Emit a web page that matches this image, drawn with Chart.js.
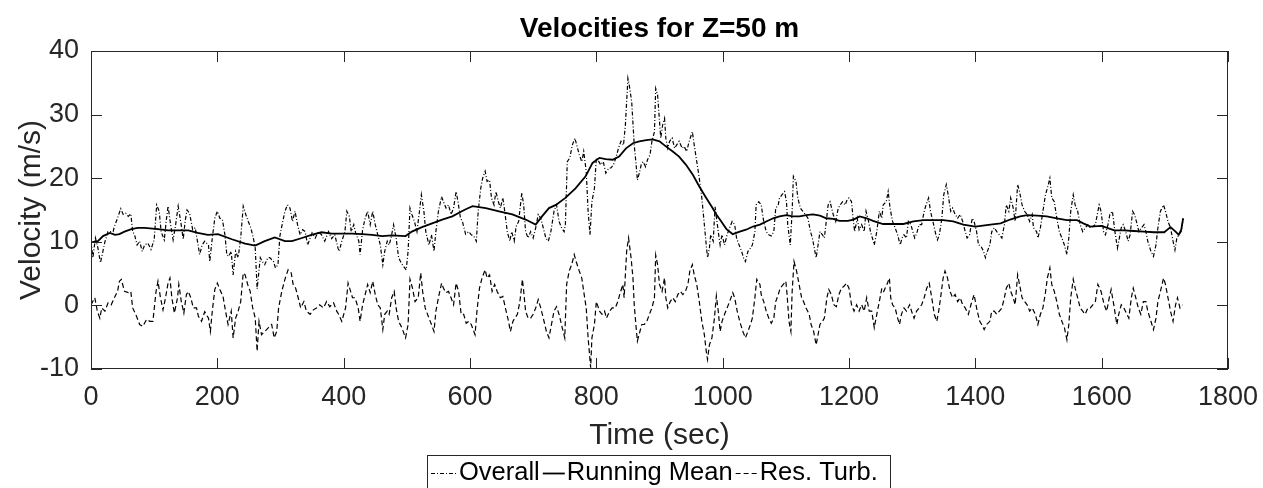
<!DOCTYPE html>
<html>
<head>
<meta charset="utf-8">
<script src="https://cdn.jsdelivr.net/npm/chart.js@4.4.1/dist/chart.umd.min.js"></script>
<style>
  html, body { margin: 0; padding: 0; background: #fff; overflow: hidden; }
</style>
</head>
<body>
<canvas id="velocityChart" width="1263" height="488"></canvas>
<script>
// tick values
const xTicks = [0, 200, 400, 600, 800, 1000, 1200, 1400, 1600, 1800];
const yTicks = [-10, 0, 10, 20, 30, 40];

// [time (sec), velocity (m/s)]
const overall = [
  [0,10.1],[3,7.5],[7,10.6],[11,9.0],[15,6.7],[22,10.0],[27,11.6],[35,11.6],[37,12.4],[42,13.7],
  [47,15.2],[51,14.3],[55,14.5],[59,14.0],[63,14.4],[66,11.6],[69,11.1],[73,9.5],[77,10.1],[81,8.5],
  [85,9.5],[90,9.8],[95,8.8],[100,10.3],[104,15.8],[108,14.8],[111,11.6],[116,10.3],[119,13.2],[122,15.6],
  [126,12.7],[130,10.3],[134,12.7],[138,15.6],[142,13.2],[146,10.4],[149,13.2],[152,15.0],[156,14.5],[161,11.9],
  [165,12.2],[169,9.8],[172,8.0],[176,9.5],[180,10.1],[186,9.5],[188,6.9],[192,10.6],[196,13.7],[200,14.8],
  [204,13.7],[208,13.5],[212,11.1],[215,8.0],[218,7.7],[222,8.5],[225,4.8],[229,8.5],[233,7.5],[237,10.6],
  [241,15.6],[245,14.3],[249,13.2],[253,12.2],[257,10.6],[260,9.0],[263,2.6],[268,7.5],[271,6.9],[275,6.4],
  [280,7.5],[283,7.5],[289,6.9],[292,5.9],[296,6.4],[299,10.9],[303,12.9],[307,14.8],[311,15.8],[315,15.3],
  [319,13.2],[323,14.8],[327,12.7],[331,11.1],[335,11.9],[339,11.6],[343,9.5],[347,10.6],[350,11.4],[355,10.6],
  [360,11.6],[365,11.1],[370,10.1],[376,11.6],[381,10.5],[386,11.1],[391,9.0],[393,8.5],[397,10.1],[402,11.6],
  [405,14.8],[409,14.0],[412,11.6],[416,12.7],[419,11.4],[424,10.1],[426,8.0],[430,11.9],[434,13.7],[438,14.8],
  [442,12.7],[446,14.8],[450,12.7],[454,11.1],[458,9.5],[462,6.4],[465,8.5],[469,10.1],[472,9.5],[475,10.6],
  [479,12.7],[483,10.6],[487,7.5],[491,6.7],[495,6.1],[499,5.6],[502,8.5],[505,15.3],[508,14.3],[512,13.2],
  [516,11.6],[520,14.8],[523,17.4],[527,14.8],[530,11.6],[535,9.5],[539,11.1],[543,8.5],[546,11.6],[550,14.8],
  [555,17.1],[558,16.3],[562,15.3],[566,15.8],[570,14.3],[574,15.3],[578,17.9],[581,16.3],[585,13.7],[588,13.2],
  [593,11.2],[598,11.6],[602,11.1],[606,10.9],[610,10.1],[613,14.8],[617,18.4],[620,20.0],[624,21.1],[627,19.5],
  [631,19.7],[634,16.9],[638,15.8],[641,17.9],[645,16.3],[648,15.3],[652,16.9],[655,14.8],[659,11.6],[663,10.1],
  [666,11.6],[670,10.1],[673,12.4],[677,13.2],[682,17.7],[685,15.8],[688,11.6],[692,10.6],[696,11.6],[700,10.6],
  [704,12.2],[708,14.3],[712,13.7],[716,12.2],[720,10.6],[724,10.1],[728,11.6],[733,14.8],[737,15.8],[741,13.2],
  [745,12.2],[749,11.6],[751,12.7],[754,22.6],[758,23.2],[762,25.2],[766,26.3],[769,25.2],[773,23.7],[777,22.6],
  [780,24.2],[784,21.1],[787,14.8],[790,11.1],[793,16.3],[797,18.4],[800,23.2],[804,22.6],[807,22.1],[811,22.6],
  [815,20.8],[820,21.6],[823,21.6],[827,22.1],[831,23.2],[835,24.7],[839,25.8],[843,25.2],[846,28.4],[850,35.7],
  [852,34.7],[856,32.0],[860,25.2],[863,22.1],[865,19.7],[868,20.8],[871,22.1],[874,22.6],[878,21.8],[881,22.9],
  [885,23.7],[888,25.8],[892,27.3],[894,34.1],[897,33.1],[900,29.0],[902,26.3],[905,28.4],[908,29.4],[910,26.3],
  [913,24.7],[916,25.8],[920,26.3],[924,24.7],[927,25.2],[931,25.8],[936,24.7],[939,25.0],[943,24.2],[947,25.8],
  [952,27.3],[955,25.2],[959,22.6],[963,20.0],[967,16.9],[971,12.7],[974,9.5],[976,7.5],[979,9.0],[981,11.1],
  [985,10.1],[988,15.5],[993,11.6],[996,9.5],[999,11.1],[1003,9.5],[1007,11.1],[1011,12.2],[1015,13.2],[1019,12.7],
  [1022,10.6],[1026,9.5],[1030,8.5],[1033,7.5],[1036,6.9],[1040,8.5],[1044,9.0],[1047,9.5],[1051,11.6],[1053,15.8],
  [1057,16.3],[1061,15.8],[1065,13.2],[1069,11.6],[1073,11.1],[1077,10.9],[1081,11.6],[1084,15.3],[1088,15.8],[1090,16.9],
  [1094,17.4],[1098,17.9],[1101,16.3],[1103,12.7],[1107,9.5],[1110,14.8],[1112,20.3],[1116,19.5],[1119,16.9],[1123,15.3],
  [1127,14.8],[1131,14.3],[1135,13.7],[1139,11.6],[1142,10.6],[1146,8.5],[1148,7.5],[1151,9.5],[1154,11.6],[1158,11.1],
  [1161,10.6],[1164,13.2],[1167,15.8],[1170,16.3],[1175,14.3],[1179,13.2],[1183,15.3],[1186,15.8],[1190,16.3],[1194,15.8],
  [1197,16.6],[1200,16.9],[1204,16.3],[1207,13.2],[1209,11.6],[1213,13.7],[1216,11.9],[1220,12.7],[1224,11.6],[1227,14.8],
  [1231,13.2],[1234,11.6],[1237,10.6],[1240,9.5],[1244,11.6],[1248,14.8],[1252,13.7],[1254,15.8],[1259,16.3],[1262,17.9],
  [1265,15.3],[1269,13.2],[1273,12.2],[1277,11.1],[1281,9.5],[1284,10.6],[1287,11.1],[1291,10.6],[1294,13.2],[1298,12.7],
  [1301,11.6],[1304,10.6],[1308,11.6],[1311,12.7],[1315,12.7],[1319,14.8],[1322,15.8],[1326,16.9],[1329,14.8],[1334,12.7],
  [1338,10.9],[1340,10.3],[1343,11.1],[1347,13.7],[1350,17.4],[1354,19.0],[1357,17.4],[1361,14.8],[1364,15.3],[1368,14.3],
  [1372,13.7],[1376,14.3],[1380,13.2],[1384,11.6],[1387,10.6],[1391,11.1],[1395,13.7],[1398,13.2],[1402,11.6],[1405,9.5],
  [1409,9.3],[1413,8.5],[1416,7.5],[1419,8.5],[1423,9.5],[1426,11.6],[1430,12.2],[1434,11.6],[1438,11.1],[1442,10.6],
  [1446,12.7],[1449,15.8],[1453,14.8],[1456,16.9],[1460,15.3],[1463,13.2],[1467,19.0],[1470,17.9],[1474,15.8],[1478,14.8],
  [1482,14.3],[1486,13.2],[1490,14.3],[1492,12.2],[1497,11.6],[1499,10.6],[1503,12.2],[1507,14.8],[1511,17.4],[1514,18.4],
  [1518,20.0],[1521,16.9],[1525,16.3],[1529,13.7],[1533,11.6],[1537,10.6],[1541,9.5],[1545,8.0],[1548,10.6],[1551,14.8],
  [1555,17.4],[1558,15.8],[1562,14.8],[1566,12.7],[1570,11.6],[1574,12.2],[1578,12.7],[1582,12.2],[1586,12.4],[1590,12.7],
  [1594,14.8],[1596,15.8],[1599,14.8],[1603,11.6],[1606,11.1],[1610,12.7],[1613,14.3],[1617,14.8],[1621,11.6],[1625,9.0],
  [1628,10.6],[1631,12.2],[1634,12.7],[1638,11.6],[1642,10.1],[1645,11.1],[1649,14.8],[1652,14.3],[1655,13.2],[1659,11.6],
  [1663,12.2],[1667,12.7],[1670,11.6],[1673,10.1],[1678,8.5],[1682,7.7],[1686,9.5],[1689,12.2],[1693,14.8],[1698,15.8],
  [1701,14.8],[1705,13.2],[1709,12.2],[1713,10.1],[1716,8.7],[1719,10.6],[1722,11.1],[1726,11.6],[1729,13.7]
];

const runningMean = [
  [0,9.9],[11,10.1],[19,10.9],[30,11.4],[38,11.1],[45,11.2],[53,11.6],[64,12.0],[74,12.2],[85,12.2],
  [106,12.0],[122,11.8],[138,11.8],[154,11.8],[169,11.4],[185,11.1],[201,11.2],[223,10.4],[244,9.7],[260,9.4],
  [275,10.1],[291,10.7],[307,10.1],[318,10.1],[334,10.6],[349,11.1],[365,11.5],[381,11.3],[397,11.3],[413,11.3],
  [429,11.2],[445,11.1],[461,10.9],[476,11.0],[498,10.9],[508,11.6],[524,12.3],[540,12.9],[556,13.5],[572,14.0],
  [587,14.8],[595,15.2],[604,15.6],[625,15.3],[646,14.8],[667,14.3],[688,13.5],[704,12.7],[714,14.0],[725,15.3],
  [736,15.8],[751,16.9],[767,18.4],[783,20.3],[794,22.4],[805,23.2],[815,23.0],[826,22.9],[836,23.4],[847,24.7],
  [858,25.5],[868,25.8],[879,26.0],[889,26.1],[900,25.8],[910,25.0],[921,24.2],[931,23.4],[942,22.1],[953,20.5],
  [963,18.7],[974,16.9],[984,15.3],[990,14.3],[997,13.3],[1006,12.0],[1016,11.2],[1027,11.6],[1037,11.9],[1048,12.4],
  [1059,12.7],[1069,13.2],[1080,13.7],[1090,14.0],[1101,14.2],[1111,14.0],[1122,14.0],[1132,14.2],[1143,14.3],[1154,14.1],
  [1164,13.7],[1175,13.6],[1185,13.3],[1198,13.3],[1207,13.5],[1217,14.0],[1228,13.7],[1238,13.3],[1254,12.8],[1270,12.8],
  [1286,12.8],[1302,13.2],[1318,13.4],[1334,13.4],[1349,13.4],[1365,13.2],[1381,12.7],[1400,12.4],[1424,12.7],[1440,12.9],
  [1455,13.5],[1471,14.0],[1482,14.2],[1498,14.1],[1513,14.0],[1529,13.7],[1545,13.4],[1561,13.4],[1571,12.9],[1582,12.4],
  [1600,12.5],[1620,11.8],[1635,11.8],[1651,11.7],[1667,11.6],[1683,11.5],[1699,11.5],[1709,12.3],[1717,11.6],[1722,11.1],
  [1726,11.9],[1729,13.7]
];

const resTurb = [
  [0,0.1],[6,1.2],[10,-0.9],[14,-2.0],[17,-0.4],[22,-0.9],[27,0.4],[32,0.1],[37,1.2],[42,2.2],
  [45,3.8],[48,4.1],[53,2.2],[59,2.0],[63,2.2],[66,-0.4],[72,-1.7],[77,-3.0],[82,-3.3],[88,-2.2],
  [93,-2.5],[98,-2.5],[103,2.2],[106,3.8],[110,1.2],[114,-0.7],[118,1.2],[122,3.5],[125,4.3],[128,1.2],
  [132,-1.2],[137,1.2],[139,3.3],[143,0.6],[147,-1.2],[151,1.7],[154,2.2],[158,1.2],[162,-0.4],[167,-0.4],
  [170,-1.7],[175,-2.5],[180,-1.0],[186,-2.0],[189,-4.1],[192,-0.9],[196,2.5],[200,3.5],[204,2.5],[209,1.4],
  [213,-0.9],[217,-3.0],[222,-0.9],[225,-5.1],[229,-2.0],[233,-0.9],[237,0.6],[241,5.1],[244,4.8],[248,3.3],
  [252,2.2],[256,-0.4],[260,-2.0],[263,-7.2],[266,-2.5],[270,-4.6],[275,-4.1],[281,-3.5],[286,-3.0],[290,-5.1],
  [294,-4.1],[297,-0.4],[302,2.2],[307,4.1],[312,5.6],[317,5.1],[320,3.3],[324,2.7],[328,1.2],[332,-0.4],
  [337,0.6],[341,-0.9],[347,-1.4],[352,-0.7],[357,-0.4],[362,0.1],[368,-0.4],[373,0.6],[378,-0.2],[384,0.4],
  [389,-0.9],[392,-1.4],[397,-2.5],[403,-0.4],[407,3.5],[411,2.2],[414,1.2],[418,1.2],[423,-0.4],[426,-2.5],
  [430,0.1],[434,1.7],[438,3.3],[442,2.0],[446,3.8],[450,1.7],[454,0.1],[458,-0.4],[462,-3.8],[465,-1.4],
  [469,-0.9],[472,-1.4],[476,1.2],[480,2.2],[483,-0.4],[487,-2.5],[492,-3.5],[498,-5.1],[502,-3.0],[505,4.1],
  [509,2.7],[513,0.6],[518,1.2],[522,5.1],[525,2.2],[529,-0.4],[535,-2.0],[539,-3.0],[543,-4.1],[546,-0.9],
  [550,1.2],[555,3.5],[558,2.7],[562,2.0],[566,2.2],[570,1.2],[574,0.1],[578,3.5],[582,2.2],[586,-1.4],
  [590,-1.4],[594,-2.8],[598,-2.5],[602,-3.0],[608,-4.6],[611,-0.9],[615,2.7],[619,4.3],[624,5.6],[627,4.3],
  [631,4.8],[635,2.2],[639,3.3],[643,2.2],[648,1.2],[652,1.4],[656,-0.4],[661,-2.5],[664,-4.1],[668,-2.5],
  [671,-2.0],[675,-1.4],[679,0.6],[683,4.1],[685,2.2],[688,-0.9],[692,-2.0],[696,-2.0],[700,-1.4],[704,-0.4],
  [708,0.9],[712,-0.4],[716,-2.0],[721,-4.1],[725,-5.1],[729,-3.0],[733,-0.9],[737,-0.2],[741,-1.4],[746,-3.5],
  [750,-5.1],[753,3.3],[757,5.4],[761,6.4],[765,8.0],[768,6.9],[773,5.4],[777,4.3],[780,2.2],[784,-0.4],
  [787,-5.1],[791,-9.8],[793,-5.1],[797,-3.0],[800,0.6],[805,-0.9],[809,-1.4],[813,-0.9],[816,-2.0],[821,-0.9],
  [825,-0.4],[830,-0.4],[834,0.6],[837,1.7],[842,3.3],[844,1.2],[848,8.5],[851,10.6],[855,7.5],[858,4.3],
  [860,0.1],[863,-3.5],[865,-5.6],[869,-4.1],[872,-3.0],[876,-3.0],[880,-2.5],[884,-1.4],[888,-0.4],[892,1.2],
  [894,7.9],[897,6.4],[900,3.3],[904,2.2],[908,4.3],[910,1.2],[913,-0.4],[917,0.6],[921,1.2],[925,0.6],
  [929,1.7],[933,2.2],[937,1.7],[941,2.2],[945,3.3],[948,5.4],[952,6.4],[955,4.8],[959,3.3],[963,0.6],
  [967,-2.5],[971,-4.6],[974,-7.2],[976,-8.5],[979,-6.2],[983,-5.1],[987,-2.0],[990,1.5],[993,-0.9],[996,-4.1],
  [999,-2.5],[1003,-1.4],[1007,-0.4],[1011,0.6],[1016,2.0],[1019,1.2],[1023,-0.9],[1027,-2.5],[1032,-4.1],[1036,-5.1],
  [1040,-4.1],[1044,-3.0],[1047,-2.0],[1051,1.2],[1054,4.1],[1059,3.3],[1061,1.7],[1065,0.6],[1069,-0.9],[1073,-2.0],
  [1077,-2.8],[1081,-2.0],[1084,0.6],[1088,1.7],[1091,2.7],[1096,3.3],[1100,3.8],[1102,1.7],[1105,-2.5],[1108,-4.1],
  [1110,2.2],[1113,6.9],[1117,5.4],[1121,3.3],[1125,1.2],[1128,0.6],[1132,-0.4],[1137,-1.4],[1140,-3.0],[1144,-4.1],
  [1148,-6.2],[1151,-4.6],[1154,-3.0],[1158,-2.5],[1161,-2.0],[1165,1.2],[1168,2.5],[1172,1.7],[1176,0.1],[1180,-0.2],
  [1184,1.7],[1188,2.7],[1192,3.0],[1196,3.5],[1200,2.7],[1204,0.1],[1208,-0.9],[1212,0.1],[1216,-0.9],[1220,0.1],
  [1224,-0.9],[1228,1.2],[1232,-0.9],[1236,-0.9],[1240,-3.5],[1244,-1.4],[1248,0.6],[1252,2.7],[1255,2.2],[1260,3.3],
  [1264,4.3],[1266,1.2],[1269,0.1],[1273,-0.4],[1277,-2.0],[1280,-3.0],[1283,-1.4],[1287,-0.4],[1291,-0.9],[1296,0.1],
  [1299,-0.9],[1303,-2.0],[1307,-0.9],[1311,-0.4],[1315,0.1],[1319,1.2],[1323,2.7],[1327,3.5],[1331,1.2],[1335,-1.4],
  [1339,-2.5],[1342,-0.9],[1345,1.2],[1349,4.3],[1352,5.4],[1356,4.3],[1360,2.2],[1364,1.2],[1368,1.7],[1372,0.6],
  [1376,1.2],[1380,0.1],[1384,-0.4],[1389,-1.4],[1393,0.1],[1398,1.7],[1403,-0.9],[1407,-2.5],[1410,-3.0],[1414,-3.8],
  [1418,-3.0],[1423,-2.5],[1426,-0.9],[1430,-0.9],[1434,-1.4],[1438,-0.9],[1442,-0.4],[1446,1.2],[1449,2.7],[1453,3.5],
  [1456,2.2],[1460,1.2],[1463,0.1],[1467,4.8],[1470,3.3],[1474,1.2],[1478,0.6],[1482,0.1],[1486,-0.9],[1490,-0.4],
  [1495,-1.4],[1499,-3.0],[1503,-1.4],[1507,-0.4],[1511,2.0],[1514,4.3],[1518,5.9],[1521,3.3],[1525,2.2],[1529,0.6],
  [1533,-1.4],[1537,-2.5],[1541,-3.5],[1545,-5.4],[1548,-3.0],[1551,1.2],[1555,4.1],[1558,2.7],[1562,1.2],[1566,-0.4],
  [1570,-0.9],[1574,-1.4],[1578,-0.4],[1582,-0.4],[1586,0.1],[1590,0.6],[1594,3.3],[1599,2.2],[1604,0.1],[1608,-0.9],
  [1612,1.2],[1615,2.5],[1620,-0.4],[1624,-3.0],[1627,-1.4],[1631,0.1],[1635,-0.4],[1640,-1.4],[1643,-2.0],[1647,1.2],
  [1650,2.7],[1654,1.2],[1658,-0.4],[1662,-1.4],[1666,0.6],[1670,0.6],[1673,-0.9],[1678,-2.5],[1682,-3.8],[1686,-2.0],
  [1689,0.6],[1693,2.2],[1698,4.3],[1701,3.3],[1705,1.2],[1709,-0.9],[1713,-2.5],[1717,0.1],[1720,1.2],[1724,-0.4],
  [1728,0.1]
];

const FONT = "'Liberation Sans', Arial, Helvetica, sans-serif";
const INK = "#262626";

const toPoints = (rows) => rows.map(([t, v]) => ({ x: t, y: v }));

const series = [
  { label: "Overall", data: overall, width: 1.2, dash: [4, 2, 1, 2], order: 1 },
  { label: "Running Mean", data: runningMean, width: 1.8, dash: [], order: 0 },
  { label: "Res. Turb.", data: resTurb, width: 1.2, dash: [5, 3], order: 2 },
];

// MATLAB style frame: box, inward ticks, title, axis labels, boxed legend
const matlabFrame = {
  id: "matlabFrame",
  afterDraw(chart) {
    const { ctx, chartArea: a, scales } = chart;
    const tick = 11;
    ctx.save();
    ctx.strokeStyle = INK;
    ctx.lineWidth = 1;
    ctx.setLineDash([]);
    ctx.strokeRect(a.left + 0.5, a.top + 0.5, a.right - a.left - 1, a.bottom - a.top - 1);

    ctx.beginPath();
    xTicks.forEach((v) => {
      const px = Math.round(scales.x.getPixelForValue(v)) + 0.5;
      ctx.moveTo(px, a.bottom); ctx.lineTo(px, a.bottom - tick);
      ctx.moveTo(px, a.top); ctx.lineTo(px, a.top + tick);
    });
    yTicks.forEach((v) => {
      const py = Math.round(scales.y.getPixelForValue(v)) + 0.5;
      ctx.moveTo(a.left, py); ctx.lineTo(a.left + tick, py);
      ctx.moveTo(a.right, py); ctx.lineTo(a.right - tick, py);
    });
    ctx.stroke();

    const cx = (a.left + a.right) / 2;
    ctx.fillStyle = "#000";
    ctx.textAlign = "center";
    ctx.textBaseline = "middle";
    ctx.font = "bold 28px " + FONT;
    ctx.fillText("Velocities for Z=50 m", cx, 29);

    ctx.fillStyle = INK;
    ctx.font = "30px " + FONT;
    ctx.fillText("Time (sec)", cx, 436);
    ctx.save();
    ctx.translate(32, (a.top + a.bottom) / 2);
    ctx.rotate(-Math.PI / 2);
    ctx.fillText("Velocity (m/s)", 0, 0);
    ctx.restore();

    // legend
    const lx = 427, ly = 455, ty = 473;
    ctx.font = "25.5px " + FONT;
    ctx.textAlign = "left";
    ctx.fillStyle = "#fff";
    ctx.fillRect(lx, ly, 463, 60);
    ctx.strokeStyle = INK;
    ctx.strokeRect(lx + 0.5, ly + 0.5, 463, 60);
    let x = lx + 4;
    series.forEach((s, i) => {
      const len = i === 0 ? 26 : 22;
      ctx.beginPath();
      ctx.strokeStyle = "#000";
      ctx.lineWidth = s.width;
      ctx.setLineDash(s.dash);
      ctx.moveTo(x, ty + 0.5);
      ctx.lineTo(x + len, ty + 0.5);
      ctx.stroke();
      ctx.setLineDash([]);
      x += len + 2;
      ctx.fillStyle = "#000";
      ctx.fillText(s.label, x, ty);
      x += ctx.measureText(s.label).width + 3;
    });
    ctx.restore();
  },
};

new Chart(document.getElementById("velocityChart"), {
  type: "line",
  data: {
    datasets: series.map((s) => ({
      label: s.label,
      data: toPoints(s.data),
      borderColor: "#000",
      borderWidth: s.width,
      borderDash: s.dash,
      pointRadius: 0,
      fill: false,
      tension: 0,
      order: s.order,
    })),
  },
  options: {
    responsive: false,
    animation: false,
    devicePixelRatio: 1,
    layout: { padding: { top: 51, right: 35, left: 0, bottom: 0 } },
    plugins: {
      legend: { display: false },
      title: { display: false },
      tooltip: { enabled: false },
    },
    scales: {
      x: {
        type: "linear",
        min: 0,
        max: 1800,
        afterFit: (s) => { s.height = 119; },
        afterBuildTicks: (s) => { s.ticks = xTicks.map((v) => ({ value: v })); },
        grid: { display: false },
        border: { display: false },
        ticks: {
          color: INK,
          font: { family: FONT, size: 27 },
          padding: 4,
          maxRotation: 0,
          autoSkip: false,
          callback: (v) => String(v),
        },
      },
      y: {
        type: "linear",
        min: -10,
        max: 40,
        afterFit: (s) => { s.width = 91; },
        afterBuildTicks: (s) => { s.ticks = yTicks.map((v) => ({ value: v })); },
        grid: { display: false },
        border: { display: false },
        ticks: {
          color: INK,
          font: { family: FONT, size: 27 },
          padding: 4,
          autoSkip: false,
          callback: (v) => String(v),
        },
      },
    },
  },
  plugins: [matlabFrame],
});
</script>
</body>
</html>
